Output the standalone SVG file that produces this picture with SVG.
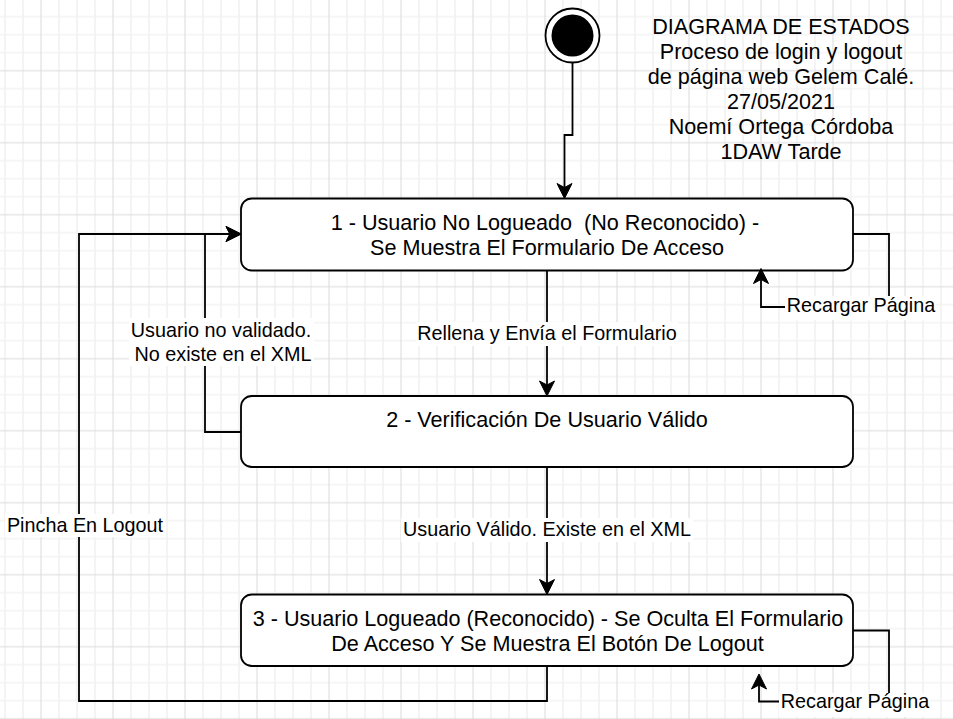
<svg xmlns="http://www.w3.org/2000/svg" width="953" height="719" viewBox="0 0 953 719">
<style>
  .box { fill: #ffffff; stroke: #000000; stroke-width: 1.8; }
  .edge { fill: none; stroke: #000000; stroke-width: 1.8; }
  .t { font-family: "Liberation Sans", Arial, sans-serif; fill: #000000; text-anchor: middle; }
  .nt { font-size: 21.6px; }
  .et { font-size: 19.8px; }
  .lbg { fill: #ffffff; }
</style>
<defs>
  <pattern id="grid" x="-4" y="25.7" width="72" height="72" patternUnits="userSpaceOnUse">
    <path d="M9,0 V72 M27,0 V72 M63,0 V72 M0,9 H72 M0,27 H72 M0,63 H72" stroke="#f3f3f3" stroke-width="1.7" fill="none"/>
    <path d="M45,0 V72 M0,45 H72" stroke="#dadada" stroke-width="1" fill="none"/>
  </pattern>
  <marker id="arr" viewBox="-16 -9 18 18" markerWidth="18" markerHeight="18" refX="-11" refY="0" orient="auto" markerUnits="userSpaceOnUse">
    <path d="M0,0 L-15,-7.5 L-11,0 L-15,7.5 Z" fill="#000000" stroke="#000000" stroke-width="1" stroke-linejoin="miter"/>
  </marker>
</defs>
<rect x="0" y="0" width="953" height="719" fill="#ffffff"/>
<rect x="0" y="0" width="953" height="719" fill="url(#grid)"/>

<g id="title">
  <text class="t nt" x="781" y="34">DIAGRAMA DE ESTADOS</text>
  <text class="t nt" x="781" y="59">Proceso de login y logout</text>
  <text class="t nt" x="781" y="84">de página web Gelem Calé.</text>
  <text class="t nt" x="781" y="109">27/05/2021</text>
  <text class="t nt" x="781" y="134">Noemí Ortega Córdoba</text>
  <text class="t nt" x="781" y="159">1DAW Tarde</text>
</g>

<g id="start">
  <circle cx="572.5" cy="35.5" r="27" fill="#ffffff" stroke="#000000" stroke-width="1.8"/>
  <circle cx="572.5" cy="35.5" r="21" fill="#000000"/>
</g>

<g id="state1">
  <rect class="box" x="241" y="198.5" width="612" height="72" rx="10.8" ry="10.8"/>
  <text class="t nt" x="545" y="230">1 - Usuario No Logueado &#160;(No Reconocido) -</text>
  <text class="t nt" x="547" y="254.5">Se Muestra El Formulario De Acceso</text>
</g>

<g id="state2">
  <rect class="box" x="241" y="396" width="612" height="71" rx="10.8" ry="10.8"/>
  <text class="t nt" x="547" y="427">2 - Verificación De Usuario Válido</text>
</g>

<g id="state3">
  <rect class="box" x="241" y="594.5" width="612" height="71.5" rx="10.8" ry="10.8"/>
  <text class="t nt" x="548" y="626">3 - Usuario Logueado (Reconocido) - Se Oculta El Formulario</text>
  <text class="t nt" x="547.5" y="651">De Acceso Y Se Muestra El Botón De Logout</text>
</g>

<g id="connectors">
  <path class="edge" d="M572.5,63 V135 H564.5 V187.5" marker-end="url(#arr)"/>
  <path class="edge" d="M547,270.5 V385" marker-end="url(#arr)"/>
  <path class="edge" d="M547,467 V583.5" marker-end="url(#arr)"/>
  <path class="edge" d="M241,432 H205 V234 H230" marker-end="url(#arr)"/>
  <path class="edge" d="M547,666 V701 H79 V234 H230" marker-end="url(#arr)"/>
  <path class="edge" d="M853,234 H889 V307 H761 V279.5" marker-end="url(#arr)"/>
  <path class="edge" d="M853,630.5 H889 V701.5 H759 V685" marker-end="url(#arr)"/>

  <rect class="lbg" x="416" y="322" width="262" height="24"/>
  <text class="t et" x="547" y="340">Rellena y Envía el Formulario</text>

  <rect class="lbg" x="401" y="518" width="292" height="24"/>
  <text class="t et" x="547" y="536">Usuario Válido. Existe en el XML</text>

  <rect class="lbg" x="129" y="318" width="185" height="48"/>
  <text class="t et" x="221" y="337">Usuario no validado.</text>
  <text class="t et" x="223" y="361">No existe en el XML</text>

  <rect class="lbg" x="5" y="514" width="160" height="23"/>
  <text class="t et" x="85" y="532">Pincha En Logout</text>

  <rect class="lbg" x="785" y="296" width="151" height="24"/>
  <text class="t et" x="861" y="312">Recargar Página</text>

  <rect class="lbg" x="779" y="693" width="151" height="24"/>
  <text class="t et" x="855" y="708">Recargar Página</text>
</g>
</svg>
